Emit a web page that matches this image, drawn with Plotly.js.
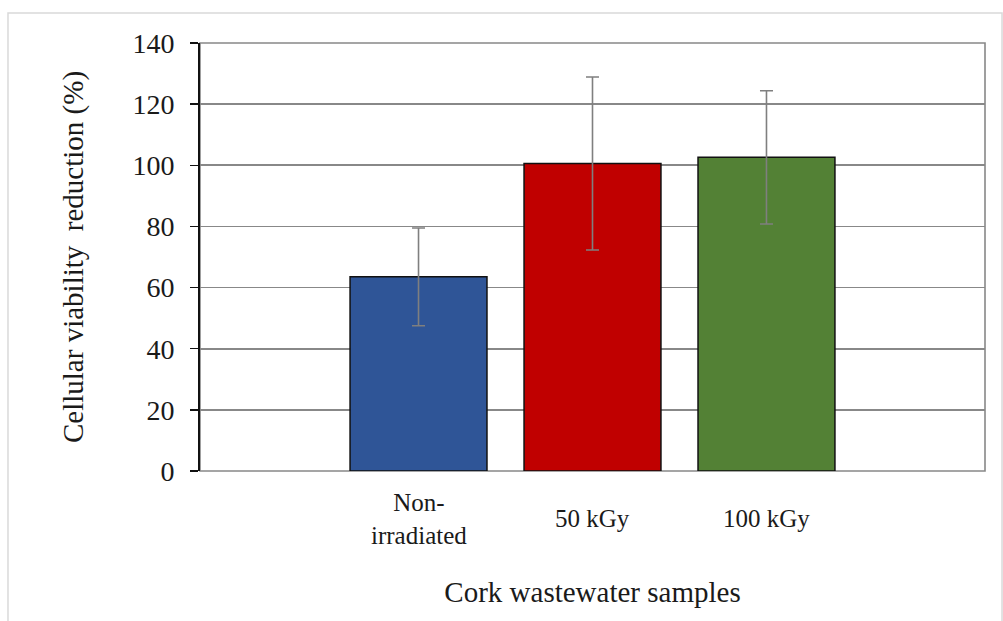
<!DOCTYPE html>
<html>
<head>
<meta charset="utf-8">
<script src="https://cdn.plot.ly/plotly-3.0.1.min.js"></script>
<style>html,body{margin:0;padding:0;background:#fff;}#chart{width:1003px;height:621px;}</style>
</head>
<body>
<div id="chart"></div>
<script>
const categories = ["Non-irradiated", "50 kGy", "100 kGy"];
const categoryLabels = ["Non-<br>irradiated", "50 kGy", "100 kGy"];
const values = [63.5, 100.6, 102.6];
const errors = [16.0, 28.3, 21.8];
const barColors = ["#2F5597", "#C00000", "#538135"];
const yTicks = [0, 20, 40, 60, 80, 100, 120, 140];

const serif = "Liberation Serif";

const trace = {
  type: "bar",
  x: categories,
  y: values,
  width: 0.787,
  marker: {color: barColors, line: {color: "#111", width: 1.5}},
  error_y: {type: "data", array: errors, visible: true, color: "#7F7F7F", thickness: 1.6, width: 6.5},
  hoverinfo: "x+y"
};

const annotations = categories.map((c, i) => ({
  x: c, xref: "x", y: -0.112, yref: "paper",
  text: categoryLabels[i], showarrow: false,
  xanchor: "center", yanchor: "middle",
  font: {family: serif, size: 25, color: "#1a1a1a"}
}));

const layout = {
  width: 1003, height: 621,
  margin: {l: 200, r: 18, t: 43, b: 150},
  paper_bgcolor: "#fff", plot_bgcolor: "#fff",
  showlegend: false,
  xaxis: {
    type: "category",
    range: [-1.256, 3.256],
    showticklabels: false,
    ticks: "",
    showgrid: false, zeroline: false, showline: false,
    title: {text: "Cork wastewater samples", font: {family: serif, size: 29, color: "#1a1a1a"}, standoff: 110},
    automargin: false
  },
  yaxis: {
    range: [0, 140],
    tickvals: yTicks,
    ticktext: yTicks.map(String),
    showgrid: true, gridcolor: "#888888", gridwidth: 1.6,
    zeroline: false,
    showline: true, linecolor: "#111", linewidth: 2,
    ticks: "outside", ticklen: 8, tickcolor: "#111", tickwidth: 1.5,
    ticklabelstandoff: 10,
    tickfont: {family: serif, size: 28, color: "#1a1a1a"},
    title: {text: "Cellular viability  reduction (%)", font: {family: serif, size: 29, color: "#1a1a1a"}, standoff: 40},
    automargin: false
  },
  annotations: annotations,
  shapes: [
    {type: "rect", xref: "paper", yref: "paper", x0: 0, x1: 1, y0: 0, y1: 1,
     line: {color: "#888888", width: 1.6}, layer: "below"},
    {type: "rect", xref: "paper", yref: "paper", x0: -0.2446, x1: 1.0217, y0: -0.6, y1: 1.0701,
     line: {color: "#D9D9D9", width: 1.5}, layer: "below"}
  ]
};

Plotly.newPlot("chart", [trace], layout, {displayModeBar: false, staticPlot: true});
</script>
</body>
</html>
